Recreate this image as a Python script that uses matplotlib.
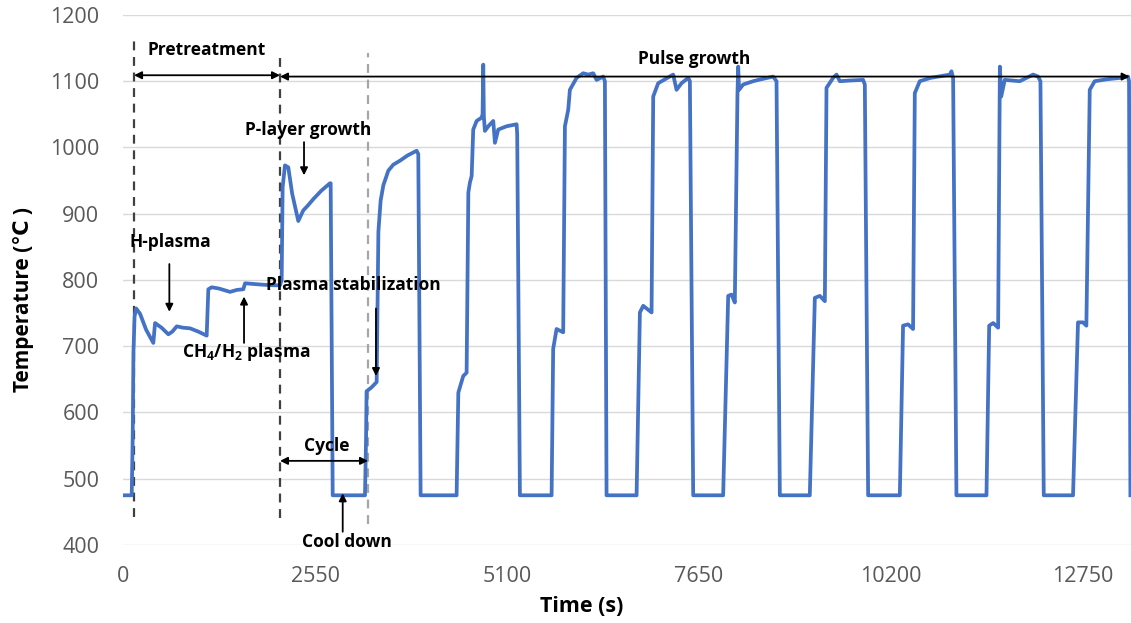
import matplotlib
matplotlib.use("Agg")
import matplotlib.pyplot as plt

# ---------------- data ----------------
time_s = [0, 115, 128, 138, 153, 174, 226, 306, 402, 425, 511, 602, 654, 713, 797, 890, 1001, 1111,
          1133, 1178, 1277, 1421, 1512, 1598, 1620, 1737, 1839, 1996, 2085, 2107, 2120, 2151, 2195,
          2247, 2328, 2394, 2452, 2527, 2636, 2749, 2758, 2785,
          3214, 3228, 3235, 3302, 3369, 3381, 3392, 3422, 3458, 3524, 3590, 3678, 3780, 3900, 3922, 3953,
          4431, 4454, 4519, 4564, 4587, 4608, 4631, 4652, 4697, 4763, 4776, 4785, 4793, 4807, 4852,
          4918, 4940, 4984, 5095, 5228, 5236, 5272,
          5693, 5714, 5759, 5847, 5870, 5914, 5936, 6025, 6113, 6180, 6246, 6291, 6378, 6401, 6423,
          6822, 6866, 6910, 7021, 7043, 7109, 7202, 7308, 7353, 7419, 7508, 7530, 7574,
          7972, 8039, 8083, 8127, 8162, 8172, 8183, 8238, 8370, 8479, 8636, 8681, 8725,
          9123, 9190, 9256, 9323, 9345, 9433, 9478, 9522, 9654, 9831, 9854, 9898,
          10319, 10362, 10429, 10495, 10518, 10584, 10726, 10983, 11005, 11027, 11071,
          11470, 11506, 11559, 11625, 11648, 11666, 11713, 11912, 12090, 12156, 12187, 12231,
          12620, 12686, 12753, 12797, 12842, 12908, 13076, 13240, 13351, 13364, 13382]
temperature_c = [475, 475, 560, 690, 745, 757, 749, 725, 705, 735, 728, 718, 722, 730, 728, 727, 722, 716,
                 786, 789, 787, 782, 785, 786, 795, 794, 793, 792, 792, 800, 940, 973, 970,
                 930, 889, 905, 912, 922, 935, 946, 946, 475,
                 475, 560, 632, 638, 646, 760, 873, 920, 943, 965, 974, 980, 988, 995, 990, 475,
                 475, 630, 655, 660, 932, 947, 957, 1027, 1040, 1045, 1050, 1125, 1047, 1025, 1032,
                 1040, 1007, 1027, 1032, 1035, 1020, 475,
                 475, 696, 726, 721, 1032, 1057, 1087, 1105, 1112, 1110, 1112, 1102, 1107, 1100, 475,
                 475, 751, 761, 751, 1077, 1097, 1103, 1110, 1087, 1097, 1105, 1100, 475,
                 475, 776, 778, 766, 1080, 1122, 1087, 1095, 1100, 1103, 1107, 1100, 475,
                 475, 773, 776, 768, 1090, 1105, 1110, 1100, 1101, 1102, 1095, 475,
                 475, 731, 733, 726, 1082, 1100, 1105, 1110, 1115, 1105, 475,
                 475, 731, 735, 728, 1122, 1077, 1102, 1100, 1110, 1107, 1100, 475,
                 475, 736, 736, 731, 1087, 1100, 1103, 1105, 1107, 1100, 475]
x_ticks = [0, 2550, 5100, 7650, 10200, 12750]
y_ticks = [400, 500, 600, 700, 800, 900, 1000, 1100, 1200]

# phase boundaries (s)
pretreat_start = 146
pulse_start = 2085
cycle_end = 3254
pulse_end = 13372

# ---------------- style ----------------
plt.rcParams["font.family"] = ["Open Sans", "DejaVu Sans"]
plt.rcParams["mathtext.fontset"] = "custom"
plt.rcParams["mathtext.bf"] = "Open Sans:bold"
plt.rcParams["mathtext.rm"] = "Open Sans:bold"
plt.rcParams["mathtext.default"] = "bf"

fig = plt.figure(figsize=(11.31, 6.23), dpi=100)
ax = fig.add_axes([0.1088, 0.1252, 0.8912, 0.8508])

ax.plot(time_s, temperature_c, color="#4472C4", lw=2.7, solid_joinstyle="round", zorder=3)

ax.set_xlim(0, 13390)
ax.set_ylim(400, 1200)
ax.set_xticks(x_ticks)
ax.set_yticks(y_ticks)
ax.grid(axis="y", color="#D9D9D9", lw=1.0)
ax.set_axisbelow(True)
for s in ax.spines.values():
    s.set_visible(False)
ax.tick_params(length=0)
ax.tick_params(axis="y", pad=17, labelsize=15.5, labelcolor="#595959")
ax.tick_params(axis="x", pad=15, labelsize=15.5, labelcolor="#595959")

fig.text(23 / 1131, 1 - 300 / 623, "Temperature (\u2103 )", rotation=90, ha="center", va="center",
         fontsize=15, fontweight="bold", family=["Open Sans", "DejaVu Sans"])
fig.text(582 / 1131, 1 - 606 / 623, "Time (s)", ha="center", va="center",
         fontsize=15.5, fontweight="bold")

# dashed phase lines
ax.plot([pretreat_start, pretreat_start], [442, 1165], ls=(0, (4, 3)), color="#404040", lw=1.6, zorder=2)
ax.plot([pulse_start, pulse_start], [441, 1143], ls=(0, (4, 3)), color="#404040", lw=1.6, zorder=2)
ax.plot([cycle_end, cycle_end], [432, 1143], ls=(0, (4, 3)), color="#A6A6A6", lw=1.6, zorder=2)

txt = dict(fontsize=12.5, fontweight="bold", color="black", ha="center", va="center", zorder=5)
arr = dict(arrowstyle="-|>", color="black", lw=1.3, mutation_scale=11, shrinkA=0, shrinkB=0)
darr = dict(arrowstyle="<|-|>", color="black", lw=1.3, mutation_scale=11, shrinkA=0, shrinkB=0)

# double arrows
ax.annotate("", xy=(pretreat_start, 1109), xytext=(pulse_start, 1109), arrowprops=darr)
ax.annotate("", xy=(pulse_start, 1107), xytext=(pulse_end, 1107), arrowprops=darr, annotation_clip=False)
ax.annotate("", xy=(pulse_start, 527), xytext=(cycle_end, 527), arrowprops=darr)

ax.text(1116, 1147, "Pretreatment", **txt)
ax.text(7583, 1134, "Pulse growth", **txt)
ax.text(2705, 549, "Cycle", **txt)

# labelled arrows
ax.text(2457, 1027, "P-layer growth", **txt)
ax.annotate("", xy=(2404, 958), xytext=(2404, 1008), arrowprops=arr)

ax.text(624, 858, "H-plasma", **txt)
ax.annotate("", xy=(615, 752), xytext=(615, 824), arrowprops=arr)

ax.text(1629, 692, r"CH$_4$/H$_2$ plasma", **txt)
ax.annotate("", xy=(1607, 775), xytext=(1607, 705), arrowprops=arr)

ax.text(3054, 792, "Plasma stabilization", **txt)
ax.annotate("", xy=(3360, 655), xytext=(3360, 757), arrowprops=arr)

ax.text(2971, 404, "Cool down", clip_on=False, **txt)
ax.annotate("", xy=(2918, 478), xytext=(2918, 420), arrowprops=arr)

fig.savefig("out.png", dpi=100)
